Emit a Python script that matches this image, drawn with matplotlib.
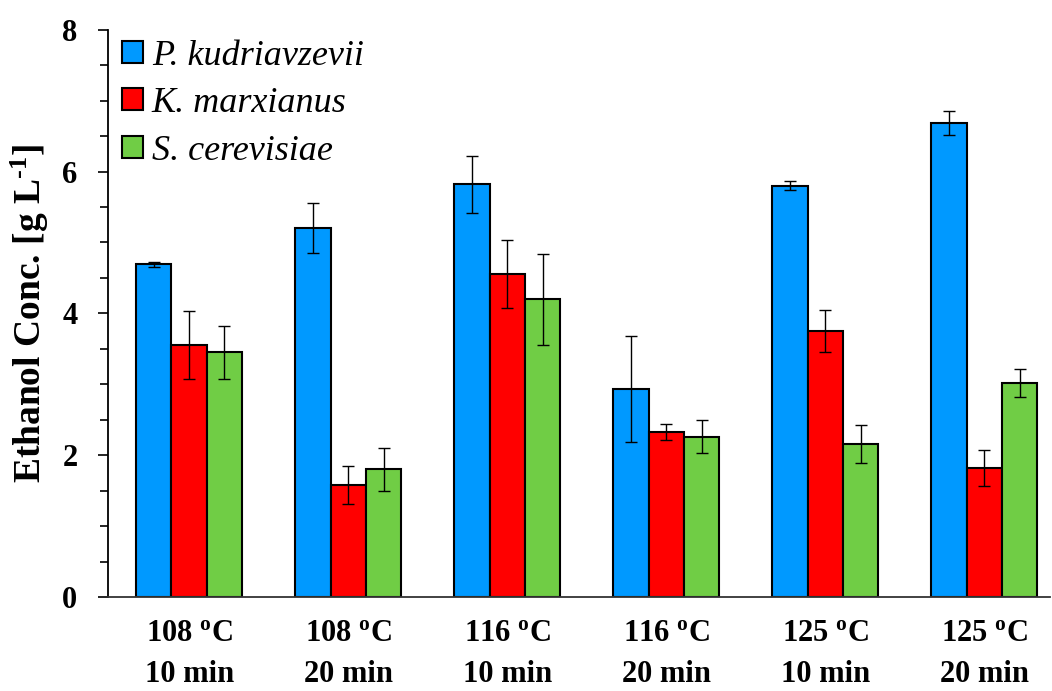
import numpy as np
import matplotlib
matplotlib.use("Agg")
import matplotlib.pyplot as plt
from matplotlib.ticker import MultipleLocator

plt.rcParams['font.family'] = ['Liberation Serif', 'DejaVu Serif']
plt.rcParams['mathtext.fontset'] = 'custom'
plt.rcParams['mathtext.rm'] = 'Liberation Serif'
plt.rcParams['mathtext.bf'] = 'Liberation Serif:bold'

conditions = ["108 $\\mathbf{^{o}}$C\n10 min", "108 $\\mathbf{^{o}}$C\n20 min",
              "116 $\\mathbf{^{o}}$C\n10 min", "116 $\\mathbf{^{o}}$C\n20 min",
              "125 $\\mathbf{^{o}}$C\n10 min", "125 $\\mathbf{^{o}}$C\n20 min"]
strains = ["P. kudriavzevii", "K. marxianus", "S. cerevisiae"]

p_kud = [4.69, 5.20, 5.82, 2.93, 5.80, 6.69]
p_kud_err = [0.03, 0.35, 0.40, 0.75, 0.06, 0.17]
k_marx = [3.56, 1.58, 4.56, 2.33, 3.75, 1.82]
k_marx_err = [0.48, 0.27, 0.48, 0.11, 0.30, 0.26]
s_cer = [3.45, 1.80, 4.20, 2.26, 2.16, 3.02]
s_cer_err = [0.37, 0.30, 0.64, 0.23, 0.27, 0.20]

colors = ["#0099FF", "#FF0000", "#70CD45"]

fig = plt.figure(figsize=(10.52, 6.91), dpi=100)
ax = fig.add_axes([0.1027, 0.136, 0.895, 0.821])

x = np.arange(len(conditions))
w = 0.222
series = [(p_kud, p_kud_err), (k_marx, k_marx_err), (s_cer, s_cer_err)]
for i, (vals, errs) in enumerate(series):
    ax.bar(x + (i - 1) * w, vals, w, yerr=errs, color=colors[i],
           edgecolor="black", linewidth=1.5, label=strains[i],
           error_kw=dict(ecolor="black", elinewidth=1.0, capsize=4.5, capthick=1.0))

ax.set_xlim(-0.51, 5.41)
ax.set_ylim(0, 8)
ax.yaxis.set_major_locator(MultipleLocator(2))
ax.yaxis.set_minor_locator(MultipleLocator(0.5))
ax.set_xticks(x)
ax.set_xticklabels(conditions, fontsize=22, fontweight="bold", linespacing=1.55)
ax.tick_params(axis="x", length=0, pad=16)
ax.tick_params(axis="y", which="major", length=7, width=1.2, labelsize=22, pad=15)
ax.tick_params(axis="y", which="minor", length=6, width=1.2)
for lab in ax.get_yticklabels():
    lab.set_fontweight("bold")

ax.spines["top"].set_visible(False)
ax.spines["right"].set_visible(False)
ax.spines["left"].set_linewidth(1.3)
ax.spines["bottom"].set_linewidth(1.3)
ax.spines["bottom"].set_color("#333333")

ax.set_ylabel("Ethanol Conc. [g L$\\mathbf{^{\u20101}}$]", fontsize=27, fontweight="bold", labelpad=8)

# legend sits tight in the top-left corner, no frame
leg = ax.legend(loc="upper left", bbox_to_anchor=(0.0, 1.008), frameon=False,
                handlelength=0.56, handleheight=0.56,
                handletextpad=0.25, labelspacing=0.40, borderaxespad=0.0,
                prop=dict(family="Liberation Serif", style="italic", size=26))

fig.savefig("out.png", dpi=100)
